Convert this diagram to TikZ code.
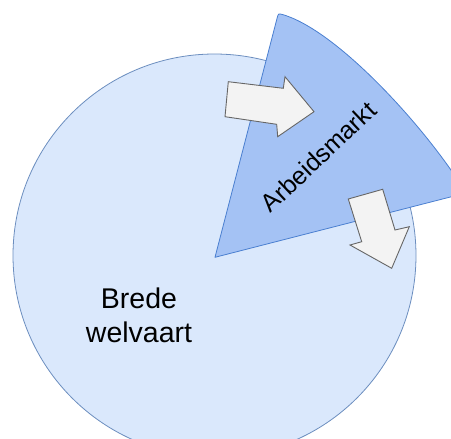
\documentclass[tikz,border=0pt]{standalone}
\usepackage{fontspec}
\setmainfont{Liberation Sans}
\definecolor{circfill}{HTML}{DAE8FC}
\definecolor{circline}{HTML}{6C8EBF}
\definecolor{wedgefill}{HTML}{A4C2F4}
\definecolor{wedgeline}{HTML}{4A7FD0}
\definecolor{arrfill}{HTML}{F3F3F3}
\definecolor{arrline}{HTML}{666666}
\tikzset{
  circshape/.style={fill=circfill, draw=circline, line width=0.8pt},
  wedgeshape/.style={fill=wedgefill, draw=wedgeline, line width=0.8pt, line join=round},
  blockarrow/.style={fill=arrfill, draw=arrline, line width=0.9pt, line join=miter},
  lbl/.style={inner sep=0pt, text=black}
}
\begin{document}
\begin{tikzpicture}[x=1pt, y=-1pt]
  \useasboundingbox (0,0) rectangle (451,439);
  \clip (0,0) rectangle (451,439);
  % large circle
  \draw[circshape] (214.5,255.5) circle[radius=201.5pt];
  % wedge
  \coordinate (apex) at (215,257.3);
  \coordinate (wtop) at (278.3,13.3);
  \coordinate (wend) at (466,193);
  \draw[wedgeshape] (apex) -- (277.0,18.5) .. controls (wtop) .. (283.4,14.8)
     .. controls (340,32) and (430,133) .. (wend) -- cycle;
  % arrow into the wedge
  \draw[blockarrow] (228.3,81.7) -- (283.3,88.3) -- (285,76.7) -- (314,111.7)
     -- (277.7,136.7) -- (276.7,124.3) -- (225,116.7) -- cycle;
  % arrow out of the wedge
  \draw[blockarrow] (348.3,199) -- (382.7,189.3) -- (395,230) -- (409.3,226.7)
     -- (391.7,268.3) -- (350,245) -- (361.7,241.7) -- cycle;
  % labels
  \node[lbl, font=\fontsize{25}{30}\selectfont, rotate=43.3, anchor=base] (arb) at (324.5,163.5) {Arbeidsmarkt};
  \node[lbl, font=\fontsize{28.5}{34}\selectfont, align=center] (bw) at (139,315) {Brede\\welvaart};
\end{tikzpicture}
\end{document}
